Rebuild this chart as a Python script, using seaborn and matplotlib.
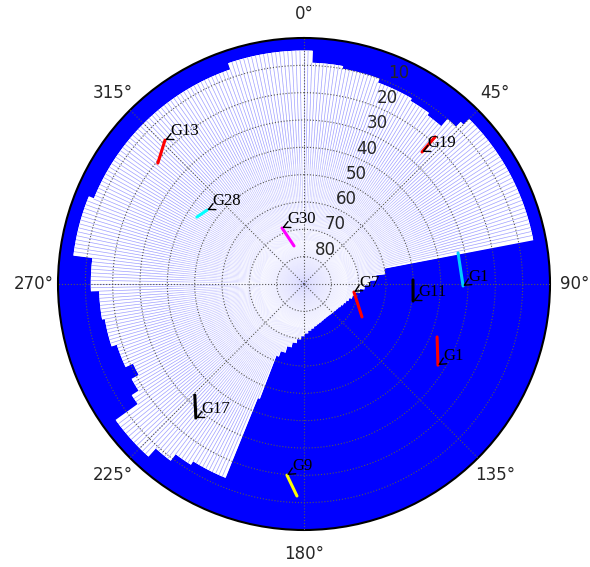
import numpy as np
import pandas as pd
import matplotlib
matplotlib.use("Agg")
import matplotlib.pyplot as plt
from matplotlib.collections import LineCollection
import seaborn as sns

# Obstruction mask: azimuth where each step starts (deg) and the mask elevation (deg)
mask_start_az = [0, 2, 10, 20, 30, 36, 41, 44, 45,
                 79, 83, 87, 91, 95, 99, 103, 107, 111, 115, 119, 123, 127, 131, 135,
                 139, 143, 147, 151, 155, 159, 163, 167, 171, 175, 179, 183, 187, 191,
                 195, 199, 201,
                 202, 212, 217, 222, 234, 237, 241, 245, 252, 260, 268, 277, 292, 341]
mask_elev = [4.6, 9, 10, 11.5, 12.5, 13.5, 10, 7.5, 4.6,
             60.1, 63.4, 65.8, 67.8, 69.4, 70.7, 71.7, 72.6, 73.3, 73.8, 74.3, 74.7, 74.9, 75.1, 75.2,
             75.3, 75.3, 75.2, 75.0, 74.7, 74.4, 74.0, 73.4, 72.8, 71.9, 70.9, 69.7, 68.2, 66.4,
             64.0, 61.9, 45,
             13.5, 12, 9, 5, 15, 18, 21, 18, 16, 15, 12, 5, 7, 4.6]

# Satellite tracks: first and last (azimuth, elevation) of each arc, in degrees
sat_names = ["G13", "G28", "G30", "G19", "G1", "G11", "G1", "G7", "G17", "G9"]
sat_track_ids = ["G13", "G28", "G30", "G19", "G1a", "G11", "G1b", "G7", "G17", "G9"]
az_start = [309.6, 302.0, 345.3, 41.7, 78.6, 87.9, 111.7, 119.6, 224.5, 181.9]
el_start = [20.6, 43.8, 75.6, 17.9, 32.5, 50.1, 37.6, 65.6, 33.0, 12.4]
az_end = [316.0, 307.3, 338.6, 41.8, 90.7, 98.9, 121.2, 99.1, 218.9, 185.1]
el_end = [16.8, 45.4, 68.0, 25.2, 31.8, 49.6, 32.7, 71.5, 27.0, 19.8]
track_colors = ["red", "cyan", "magenta", "red", "#00ccff", "black", "red", "red", "black", "yellow"]

elev_ticks = [10, 20, 30, 40, 50, 60, 70, 80]

sns.set_style("white")
plt.rcParams["font.family"] = ["DejaVu Sans"]

fig = plt.figure(figsize=(5.9, 5.67), dpi=100)
ax = fig.add_axes([58 / 590, 37 / 567, 492 / 590, 492 / 567], projection="polar")
ax.set_theta_zero_location("N")
ax.set_theta_direction(-1)
ax.set_facecolor("#0000ff")
ax.set_axisbelow(False)

# visible sky: one white wedge per degree out to the mask elevation
widths = np.diff(mask_start_az + [360])
deg_elev = np.repeat(mask_elev, widths)
deg_az = np.arange(360) + 0.5
deg_r = 90 - deg_elev
ax.bar(np.radians(deg_az), deg_r, width=np.radians(1.0), bottom=0,
       color="white", edgecolor="none", linewidth=0, zorder=1)
ax.bar(np.radians(deg_az + 0.15), deg_r, width=np.radians(1.1), bottom=0,
       color="white", edgecolor="none", linewidth=0, zorder=1.05)

# faint wedge outlines, fading out towards the zenith
segs, cols = [], []
for d in range(360):
    r_top = min(deg_r[d - 1], deg_r[d])
    th = np.radians(d)
    r0 = 12.0
    while r0 < r_top:
        r1 = min(r0 + 4.0, r_top)
        mid = 0.5 * (r0 + r1)
        a = 0.5 * np.clip((mid - 15.0) / 40.0, 0, 1)
        segs.append([(th, r0), (th, r1)])
        cols.append((0.25, 0.25, 1.0, a))
        r0 = r1
ax.add_collection(LineCollection(segs, colors=cols, linewidths=0.5, zorder=1.2))

# satellite arcs
rows = []
for tid, a0, e0, a1, e1 in zip(sat_track_ids, az_start, el_start, az_end, el_end):
    rows.append((tid, np.radians(a0), 90 - e0))
    rows.append((tid, np.radians(a1), 90 - e1))
tracks = pd.DataFrame(rows, columns=["sat", "theta", "r"])
sns.lineplot(data=tracks, x="theta", y="r", hue="sat",
             palette=dict(zip(sat_track_ids, track_colors)),
             sort=False, estimator=None, legend=False, linewidth=2.2, ax=ax, zorder=3)

for name, a1, e1 in zip(sat_names, az_end, el_end):
    ax.annotate(name, xy=(np.radians(a1), 90 - e1), xytext=(4, 1),
                textcoords="offset points", ha="left", va="bottom",
                fontsize=12, family="Liberation Serif", color="black", zorder=4,
                arrowprops=dict(arrowstyle="->", color="black", lw=1.0,
                                shrinkA=0, shrinkB=0))

ax.set_xlabel("")
ax.set_ylabel("")
ax.set_ylim(0, 90)
ax.set_yticks([90 - e for e in elev_ticks])
ax.set_yticklabels([str(e) for e in elev_ticks], fontsize=12)
ax.set_rlabel_position(22.5)
ax.set_xticks(np.radians(np.arange(0, 360, 45)))
ax.set_xticklabels([f"{d}\u00b0" for d in range(0, 360, 45)], fontsize=12)
ax.tick_params(axis="x", pad=7)
ax.grid(True, linestyle=":", color="#555555", linewidth=0.8)
ax.spines["polar"].set_color("black")
ax.spines["polar"].set_linewidth(1.5)

fig.savefig("out.png", dpi=100, facecolor="white")
